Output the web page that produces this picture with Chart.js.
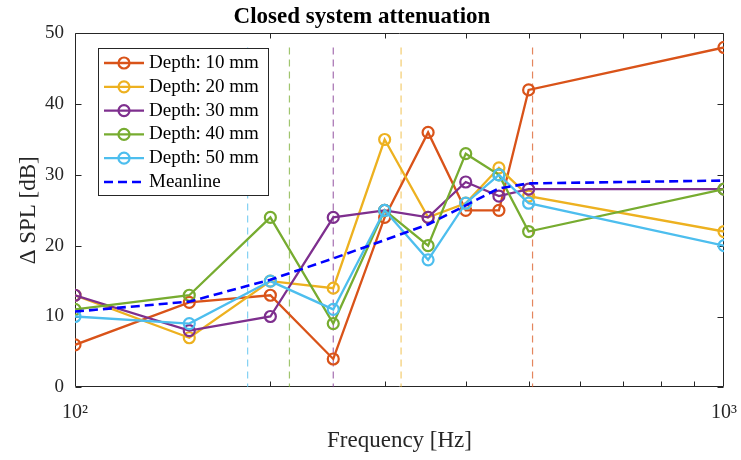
<!DOCTYPE html>
<html>
<head>
<meta charset="utf-8">
<script src="https://cdn.jsdelivr.net/npm/chart.js@4.4.0/dist/chart.umd.min.js"></script>
<style>
  html, body { margin: 0; padding: 0; background: #fff; }
</style>
</head>
<body>
<canvas id="chart" width="741" height="460"></canvas>
<script>
// frequencies (Hz) and attenuation per cavity depth (dB)
const freqs = [100, 150, 200, 250, 300, 350, 400, 450, 500, 1000];
const depth10 = [6, 12, 13, 4, 24, 36, 25, 25, 42, 48];
const depth20 = [13, 7, 15, 14, 35, 24, 26, 31, 27, 22];
const depth30 = [13, 8, 10, 24, 25, 24, 29, 27, 28, 28];
const depth40 = [11, 13, 24, 9, 25, 20, 33, 30, 22, 28];
const depth50 = [10, 9, 15, 11, 25, 18, 26, 30, 26, 20];
const meanline = [10.7, 12.1, 15.2, 18.2, 20.8, 23.0, 25.7, 28.1, 28.8, 29.2];

const seriesLabels = ['Depth: 10 mm', 'Depth: 20 mm', 'Depth: 30 mm', 'Depth: 40 mm', 'Depth: 50 mm'];
const seriesColors = ['#D95319', '#EDB120', '#7E2F8E', '#77AC30', '#4DBEEE'];
const cutoffColors = ['rgba(217,83,25,0.7)', 'rgba(237,177,32,0.65)', 'rgba(126,47,142,0.7)',
                      'rgba(119,172,48,0.7)', 'rgba(77,190,238,0.7)'];

// dashed vertical markers, one per depth (Hz), and their y extent
const cutoffFreqs = [507, 318, 250, 214, 184.5];
const cutoffRange = [48, 0];

const xTickValues = [100, 1000];
const xTickLabels = ['10²', '10³'];
const xMinorTicks = [200, 300, 400, 500, 600, 700, 800, 900];

const FONT = 'Liberation Serif, Times New Roman, serif';
const AXIS = '#262626';

const toPoints = vals => freqs.map((f, i) => ({ x: f, y: vals[i] }));

const seriesData = [depth10, depth20, depth30, depth40, depth50];

const datasets = [];
seriesData.forEach((vals, i) => {
  datasets.push({
    label: seriesLabels[i],
    data: toPoints(vals),
    borderColor: seriesColors[i],
    borderWidth: 2.3,
    pointRadius: 5.5,
    pointBorderWidth: 2.2,
    pointBorderColor: seriesColors[i],
    pointBackgroundColor: 'rgba(0,0,0,0)',
    inLegend: true,
    order: 10 - i
  });
});
datasets.push({
  label: 'Meanline',
  data: toPoints(meanline),
  borderColor: '#0000FF',
  borderWidth: 2.6,
  borderDash: [9, 5],
  pointRadius: 0,
  inLegend: true,
  order: 1
});
cutoffFreqs.forEach((f, i) => {
  datasets.push({
    label: 'cutoff ' + seriesLabels[i],
    data: cutoffRange.map(v => ({ x: f, y: v })),
    borderColor: cutoffColors[i],
    borderWidth: 1.2,
    borderDash: [7, 5],
    pointRadius: 0,
    order: 100
  });
});

// axes box with inward ticks on all four sides
const axesBox = {
  id: 'axesBox',
  beforeDatasetsDraw(chart) {
    const { ctx, chartArea: a, scales: { x, y } } = chart;
    const L = Math.round(a.left) + 0.5, R = Math.round(a.right) - 0.5;
    const T = Math.round(a.top) + 0.5, B = Math.round(a.bottom) - 0.5;
    ctx.save();
    ctx.strokeStyle = AXIS;
    ctx.lineWidth = 1;
    ctx.beginPath();
    ctx.rect(L, T, R - L, B - T);
    y.ticks.forEach(t => {
      const py = Math.round(y.getPixelForValue(t.value)) + 0.5;
      ctx.moveTo(L, py); ctx.lineTo(L + 6, py);
      ctx.moveTo(R, py); ctx.lineTo(R - 6, py);
    });
    xMinorTicks.forEach(f => {
      const px = Math.round(x.getPixelForValue(f)) + 0.5;
      ctx.moveTo(px, B); ctx.lineTo(px, B - 5);
      ctx.moveTo(px, T); ctx.lineTo(px, T + 5);
    });
    ctx.stroke();
    ctx.restore();
  }
};

// MATLAB style legend box in the upper left corner
const legendBox = {
  id: 'legendBox',
  afterDraw(chart) {
    const ctx = chart.ctx;
    const items = chart.data.datasets.filter(d => d.inLegend);
    const x0 = 98.5, y0 = 48.5, w = 170, h = 147;
    ctx.save();
    ctx.fillStyle = '#fff';
    ctx.fillRect(x0, y0, w, h);
    ctx.strokeStyle = AXIS;
    ctx.lineWidth = 1;
    ctx.strokeRect(x0, y0, w, h);
    items.forEach((d, i) => {
      const yy = 63 + i * 23.8;
      ctx.strokeStyle = d.borderColor;
      ctx.lineWidth = d.borderWidth;
      ctx.setLineDash(d.borderDash || []);
      ctx.beginPath();
      ctx.moveTo(104, yy); ctx.lineTo(144, yy);
      ctx.stroke();
      ctx.setLineDash([]);
      if (d.pointRadius) {
        ctx.lineWidth = d.pointBorderWidth;
        ctx.beginPath();
        ctx.arc(124, yy, d.pointRadius, 0, Math.PI * 2);
        ctx.stroke();
      }
      ctx.fillStyle = '#000';
      ctx.font = '19px ' + FONT;
      ctx.textBaseline = 'middle';
      ctx.textAlign = 'left';
      ctx.fillText(d.label, 149, yy);
    });
    ctx.restore();
  }
};

new Chart(document.getElementById('chart'), {
  type: 'line',
  data: { datasets },
  plugins: [axesBox, legendBox],
  options: {
    responsive: false,
    devicePixelRatio: 1,
    animation: false,
    layout: { padding: { left: 0, right: 17, top: 0, bottom: 0 } },
    plugins: {
      legend: { display: false },
      tooltip: { enabled: false },
      title: {
        display: true,
        text: 'Closed system attenuation',
        color: '#000',
        font: { family: FONT, size: 23, weight: 'bold' },
        padding: { top: 3.4, bottom: 2.3 }
      }
    },
    scales: {
      x: {
        type: 'logarithmic',
        min: 100,
        max: 1000,
        afterBuildTicks: s => { s.ticks = xTickValues.map(v => ({ value: v })); },
        afterFit: s => { s.height = 72.7; s.paddingLeft = 0; s.paddingRight = 0; },
        grid: { display: false, drawTicks: false },
        border: { display: false },
        ticks: {
          autoSkip: false,
          maxRotation: 0,
          padding: 13,
          color: AXIS,
          font: { family: FONT, size: 20 },
          callback: v => {
            const k = xTickValues.indexOf(v);
            return k >= 0 ? xTickLabels[k] : '';
          }
        },
        title: {
          display: true,
          text: 'Frequency [Hz]',
          color: AXIS,
          font: { family: FONT, size: 23 },
          padding: { top: 0, bottom: 5 }
        }
      },
      y: {
        min: 0,
        max: 50,
        afterFit: s => { s.width = 75; },
        grid: { display: false, drawTicks: false },
        border: { display: false },
        ticks: {
          stepSize: 10,
          padding: 11,
          color: AXIS,
          font: { family: FONT, size: 19 }
        },
        title: {
          display: true,
          text: 'Δ SPL [dB]',
          color: AXIS,
          font: { family: FONT, size: 23 },
          padding: { top: 15, bottom: 0 }
        }
      }
    }
  }
});
</script>
</body>
</html>
